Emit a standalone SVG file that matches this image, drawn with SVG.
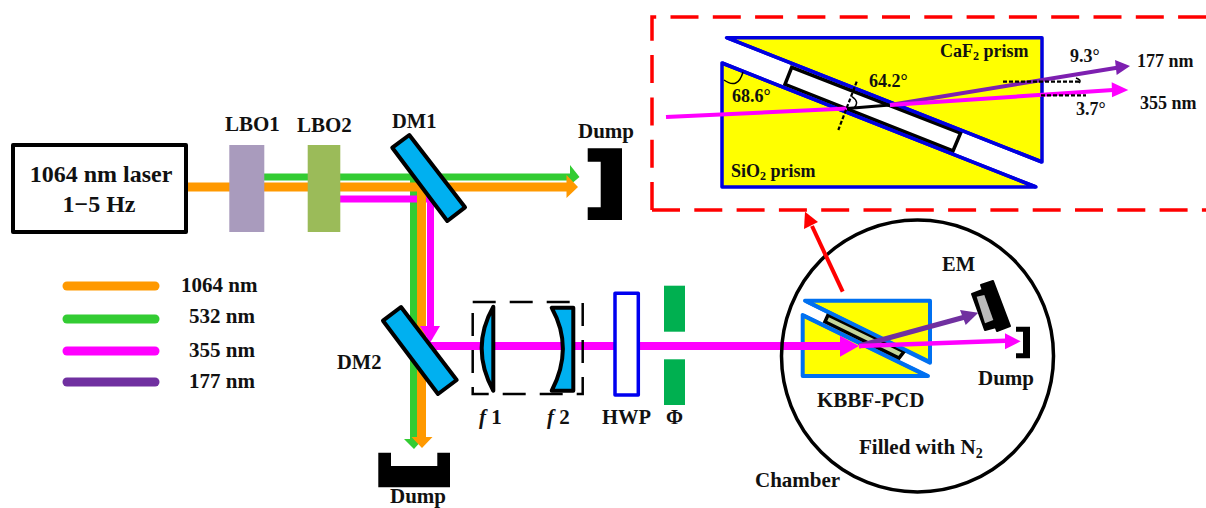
<svg xmlns="http://www.w3.org/2000/svg" width="1206" height="508" viewBox="0 0 1206 508">
<style>
text{font-family:"Liberation Serif","Times New Roman",serif;font-weight:bold;fill:#111}
.t24{font-size:24px}.t20{font-size:20.5px}.t21{font-size:21px}.t18{font-size:18px}
.blk{fill:#000}
.opt{fill:#00b0f0;stroke:#000;stroke-width:4;stroke-linejoin:round}
.pr{fill:#ff0;stroke:#0000e0;stroke-width:3.5;stroke-linejoin:round}
.prs{fill:#ff0;stroke:#0070f0;stroke-width:4;stroke-linejoin:round}
.leg{stroke-width:9;stroke-linecap:round;fill:none}
.or{stroke:#ff9900}.gr{stroke:#33cc33}.mg{stroke:#ff00ff}.pu{stroke:#7030a0}
.fo{fill:#ff9900}.fg{fill:#33cc33}.fm{fill:#ff00ff}.fp{fill:#7030a0}
</style>
<g id="beams">
<path class="gr" fill="none" stroke-width="7" d="M264 177H572M413.500 180V440"/>
<path class="fg" d="M570 165L579.500 177L570 185ZM404 439H423L414 449Z"/>
<path class="mg" fill="none" stroke-width="7" d="M340 199H430.500V330"/>
<path class="or" fill="none" stroke-width="9" d="M187 187H570M421.500 187V440"/>
<path class="fo" d="M566.500 175L578 187L566.500 198ZM411.500 437H432.500L422 448Z"/>
<path class="fm" d="M420 326H440L430 343Z"/>
<path class="mg" fill="none" stroke-width="8" d="M430 346H800"/>
</g>
<g id="laser"><rect x="13" y="145" width="173" height="87" fill="#fff" stroke="#000" stroke-width="4" stroke-linejoin="round"/>
<text class="t24" x="101" y="182" text-anchor="middle">1064 nm laser</text><text class="t24" x="99" y="212" text-anchor="middle">1−5 Hz</text></g>
<g id="lbo1"><rect x="229.300" y="145" width="35" height="87" fill="#a99bbd"/><text class="t21" x="225" y="131">LBO1</text></g>
<g id="lbo2"><rect x="307.700" y="145" width="32.600" height="87" fill="#9bbb59"/><text class="t21" x="297" y="132">LBO2</text></g>
<g id="dm1"><polygon class="opt" points="392.300,147.700 409.300,135 465,207.300 447.300,221"/><text class="t20" x="392" y="128">DM1</text></g>
<g id="dump1"><path class="blk" d="M587.700 148.300H622V220H587.700V207.300H600.700V161.700H587.700Z"/><text class="t21" x="578" y="138">Dump</text></g>
<g id="dm2"><polygon class="opt" points="383,320.700 401,307 456.700,380 438,394"/><text class="t20" x="337" y="369">DM2</text></g>
<g id="dump2"><path class="blk" d="M378.300 452.700H391V466H437.300V452.700H450V487.300H378.300Z"/><text class="t21" x="390" y="503">Dump</text></g>
<g id="legend">
<path class="leg or" d="M67 286H155"/><path class="leg gr" d="M67 319H155"/><path class="leg mg" d="M67 351H155"/><path class="leg pu" d="M67 382H155"/>
<text class="t21" x="181" y="292">1064 nm</text><text class="t21" x="189" y="323">532 nm</text><text class="t21" x="189" y="357">355 nm</text><text class="t21" x="189" y="388">177 nm</text>
</g>
<g id="telescope">
<rect x="472.700" y="302" width="110" height="92" fill="none" stroke="#000" stroke-width="2.500" stroke-dasharray="23 14"/>
<path class="opt" d="M493.300 306.700Q470 348 493.300 390.700Z"/>
<path class="opt" d="M551.700 307.700H573.300V390.700H551.700Q574 348 551.700 307.700Z"/>
<text class="t21" x="479" y="424"><tspan font-style="italic">f</tspan> 1</text>
<text class="t21" x="547" y="424"><tspan font-style="italic">f</tspan> 2</text>
</g>
<g id="hwp"><rect x="615" y="293.300" width="23.300" height="101.700" fill="#fff" stroke="#0000f0" stroke-width="3.500" stroke-linejoin="round"/><text class="t20" x="602" y="424">HWP</text></g>
<g id="aperture"><rect x="664" y="285.700" width="21" height="46" fill="#00b050"/><rect x="664" y="359.300" width="21" height="45.700" fill="#00b050"/><text class="t20" x="666" y="424">Φ</text></g>
<g id="chamber"><circle cx="917.500" cy="356" r="136" fill="none" stroke="#000" stroke-width="3.500"/>
<text class="t21" x="859" y="454">Filled with N<tspan font-size="14" dy="4">2</tspan></text><text class="t21" x="755" y="487">Chamber</text></g>
<g id="kbbf">
<polygon class="prs" points="805,300.700 930,300.700 930,362.700"/>
<polygon class="prs" points="802.700,315 802.700,376 928,376"/>
<polygon points="828,315 825,321.700 899,358 904,351.700" fill="#c5d69b" stroke="#000" stroke-width="3.500"/>
<path d="M807 301.500L930 362M804 316L927 376" stroke="#0070f0" stroke-width="4" fill="none"/>
<text class="t21" x="817" y="407">KBBF-PCD</text>
</g>
<g id="em"><polygon class="blk" stroke="#000" stroke-width="2" stroke-linejoin="round" points="981,285 993,281 1010,326 997,331"/><polygon class="blk" stroke="#000" stroke-width="2" stroke-linejoin="round" points="972,294 985,289 1000,326 985,330"/><polygon points="976.700,296.700 984.300,295 993.300,320 985,323.300" fill="#bbb"/><text class="t20" x="942" y="271">EM</text></g>
<g id="dump3"><path class="blk" d="M1016 326.700H1030V358.300H1016V353.300H1023V331.700H1016Z"/><text class="t21" x="978" y="385">Dump</text></g>
<g id="beams2">
<path class="mg" fill="none" stroke-width="8" d="M800 346H842"/>
<path class="fm" d="M840 335.700V356.700L859 346Z"/>
<path class="pu" fill="none" stroke-width="5" d="M859 346L965 317"/><path class="fp" d="M960 310L965.700 325L978.300 312.700Z"/>
<path class="mg" fill="none" stroke-width="4.500" d="M859 346L1006 340.800"/><path class="fm" d="M1005 333.300V349.300L1020.700 341.300Z"/>
</g>
<g id="inset">
<path d="M652 210V17H1206M652 210H1206" fill="none" stroke="#ff0000" stroke-width="3.500" stroke-dasharray="28 14.300"/>
<polygon class="pr" points="726.600,37.700 1042,37.700 1042,162"/>
<polygon class="pr" points="722,63 722,187 1036,187"/>
<polygon points="791.700,67.300 785,84.300 953,151 960.600,133" fill="#fff" stroke="#000" stroke-width="3.500"/>
<path d="M726.600 37.700L1042 162M722 63L1036 187" stroke="#0000e0" stroke-width="3.500" fill="none"/>
<path d="M666 117L847 108.500" stroke="#ff00ff" stroke-width="4"/>
<path d="M847 108.500L890 105" stroke="#000" stroke-width="3"/>
<path stroke-width="4" d="M890 105L1117 67.700" stroke="#7d1fb0"/><path d="M1115 60L1130 66L1116.700 75Z" fill="#7d1fb0"/>
<path d="M890 105L1113 90" stroke="#ff00ff" stroke-width="4"/><path d="M1111.700 82.300L1128.300 90L1112 97.300Z" fill="#ff00ff"/>
<path d="M856.700 81.700L838.300 130M1003 81.700H1080M1041 95.300H1086" stroke="#000" stroke-width="2.200" stroke-dasharray="4 2" fill="none"/>
<path d="M724 80Q738 90 743 72M852 96.700Q860 102 854 108M1076 78Q1082 80 1079 83" fill="none" stroke="#000" stroke-width="1.500"/>
<text class="t18" x="940" y="57">CaF<tspan font-size="12" dy="3">2</tspan><tspan dy="-3"> prism</tspan></text>
<text class="t18" x="731" y="177">SiO<tspan font-size="12" dy="3">2</tspan><tspan dy="-3"> prism</tspan></text>
<text class="t18" x="732" y="102">68.6°</text><text class="t18" x="869" y="87">64.2°</text><text class="t18" x="1070" y="62">9.3°</text><text class="t18" x="1076" y="115">3.7°</text><text class="t18" x="1137" y="67">177 nm</text><text class="t18" x="1140" y="109">355 nm</text>
</g>
<g id="connector"><path d="M842.700 291.700L812 226" stroke="#ff0000" stroke-width="4"/><path d="M805 211.700L804 229L818 222Z" fill="#ff0000"/></g>
</svg>
